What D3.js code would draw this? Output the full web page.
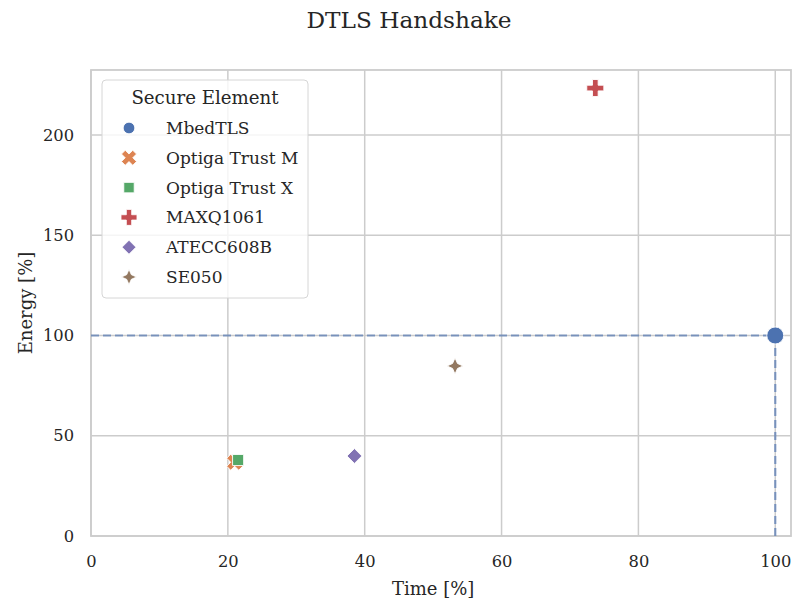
<!DOCTYPE html>
<html>
<head>
<meta charset="utf-8">
<script src="https://cdn.jsdelivr.net/npm/d3@7"></script>
<style>
  body { margin: 0; background: #fff; }
  svg text { font-family: "DejaVu Serif", "Liberation Serif", serif; fill: #262626; }
</style>
</head>
<body>
<svg id="chart" width="792" height="603"></svg>
<script>
// values
var elements = ["MbedTLS", "Optiga Trust M", "Optiga Trust X", "MAXQ1061", "ATECC608B", "SE050"];
var timePct = [100, 21.0, 21.5, 73.7, 38.5, 53.2];
var energyPct = [100, 36.8, 37.9, 223.4, 39.9, 84.8];
var colors = ["#4C72B0", "#DD8452", "#55A868", "#C44E52", "#8172B3", "#937860"];
var shapes = ["circle", "x", "square", "plus", "diamond", "star4"];
var xTicks = [0, 20, 40, 60, 80, 100];
var yTicks = [0, 50, 100, 150, 200];

var svg = d3.select("#chart");
var margin = {left: 91, right: 1, top: 70, bottom: 67};
var width = 792 - margin.left - margin.right;
var height = 603 - margin.top - margin.bottom;

var x = d3.scaleLinear().domain([0, 102.3]).range([0, width]);
var y = d3.scaleLinear().domain([0, 232.4]).range([height, 0]);

var g = svg.append("g").attr("transform", "translate(" + margin.left + "," + margin.top + ")");

// grid
g.selectAll(".gx").data(xTicks).enter().append("line")
  .attr("x1", function(d) { return x(d); }).attr("x2", function(d) { return x(d); })
  .attr("y1", 0).attr("y2", height)
  .style("stroke", "#cccccc").style("stroke-width", 1.5);
g.selectAll(".gy").data(yTicks).enter().append("line")
  .attr("y1", function(d) { return y(d); }).attr("y2", function(d) { return y(d); })
  .attr("x1", 0).attr("x2", width)
  .style("stroke", "#cccccc").style("stroke-width", 1.5);

// frame
g.append("rect").attr("width", width).attr("height", height)
  .style("fill", "none").style("stroke", "#cccccc").style("stroke-width", 1.8);

// axes (labels only, seaborn whitegrid has no tick marks)
var xAxis = g.append("g").attr("transform", "translate(0," + height + ")")
  .call(d3.axisBottom(x).tickValues(xTicks).tickSize(0).tickPadding(19));
var yAxis = g.append("g")
  .call(d3.axisLeft(y).tickValues(yTicks).tickSize(0).tickPadding(17));
[xAxis, yAxis].forEach(function(a) {
  a.select(".domain").remove();
  a.selectAll("text").style("font-size", "16.3px").style("fill", "#262626")
    .style("font-family", "DejaVu Serif, serif");
});

// reference lines to MbedTLS
var ref = elements.indexOf("MbedTLS");
g.append("line")
  .attr("x1", x(0)).attr("x2", x(timePct[ref]))
  .attr("y1", y(energyPct[ref])).attr("y2", y(energyPct[ref]))
  .style("stroke", colors[ref]).style("stroke-opacity", 0.65)
  .style("stroke-width", 2.2).style("stroke-dasharray", "8,4");
g.append("line")
  .attr("x1", x(timePct[ref])).attr("x2", x(timePct[ref]))
  .attr("y1", y(0)).attr("y2", y(energyPct[ref]))
  .style("stroke", colors[ref]).style("stroke-opacity", 0.65)
  .style("stroke-width", 2.2).style("stroke-dasharray", "8,4");

function markerPath(shape, s) {
  if (shape === "circle") return d3.symbol(d3.symbolCircle, s * s * Math.PI)();
  if (shape === "square") return d3.symbol(d3.symbolSquare, s * s * 3.2)();
  if (shape === "plus") return d3.symbol(d3.symbolCross, s * s * 4.2)();
  if (shape === "x") return d3.symbol(d3.symbolCross, s * s * 4.2)();
  if (shape === "diamond") {
    return "M0," + (-s * 1.2) + "L" + (s * 1.2) + ",0L0," + (s * 1.2) + "L" + (-s * 1.2) + ",0Z";
  }
  var a = s * 1.3, b = s * 0.4;
  return "M0," + (-a) + "L" + b + "," + (-b) + "L" + a + ",0L" + b + "," + b +
    "L0," + a + "L" + (-b) + "," + b + "L" + (-a) + ",0L" + (-b) + "," + (-b) + "Z";
}

// points
elements.forEach(function(name, i) {
  var s = name === "MbedTLS" ? 8.5 : 6.2;
  g.append("path")
    .attr("d", markerPath(shapes[i], s))
    .attr("transform", "translate(" + x(timePct[i]) + "," + y(energyPct[i]) + ")" +
      (shapes[i] === "x" ? " rotate(45)" : ""))
    .style("fill", colors[i]).style("stroke", "#fff").style("stroke-width", 0.9);
});

// legend
var lg = svg.append("g").attr("transform", "translate(102,80)");
lg.append("rect").attr("width", 206).attr("height", 218).attr("rx", 4)
  .style("fill", "#fff").style("fill-opacity", 0.8)
  .style("stroke", "#d6d6d6").style("stroke-width", 1);
lg.append("text").attr("x", 103).attr("y", 24).attr("text-anchor", "middle")
  .style("font-size", "18.2px").text("Secure Element");
elements.forEach(function(name, i) {
  var yy = 48 + i * 29.8;
  lg.append("path").attr("d", markerPath(shapes[i], 5.8))
    .attr("transform", "translate(27," + yy + ")" + (shapes[i] === "x" ? " rotate(45)" : ""))
    .style("fill", colors[i]).style("stroke", "#fff").style("stroke-width", 0.8);
  lg.append("text").attr("x", 64).attr("y", yy + 6)
    .style("font-size", "17px").text(name);
});

// title and axis labels
svg.append("text").attr("x", 409).attr("y", 28).attr("text-anchor", "middle")
  .style("font-size", "23.2px").text("DTLS Handshake");
svg.append("text").attr("x", margin.left + x(50)).attr("y", 595).attr("text-anchor", "middle")
  .style("font-size", "18px").text("Time [%]");
svg.append("text").attr("transform", "translate(32," + (margin.top + height / 2) + ") rotate(-90)")
  .attr("text-anchor", "middle").style("font-size", "18px").text("Energy [%]");
</script>
</body>
</html>
